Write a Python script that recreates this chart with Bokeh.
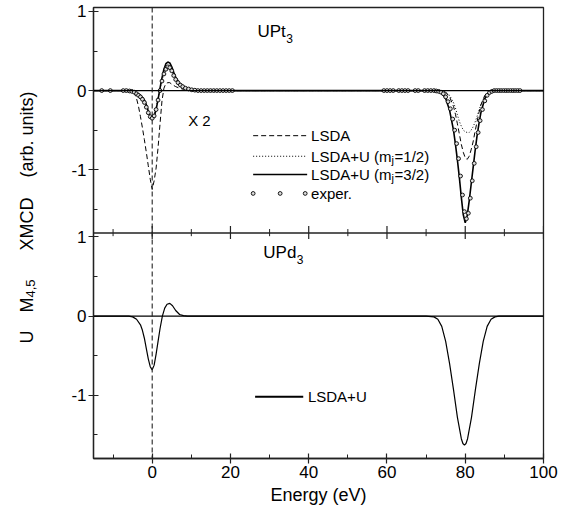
import numpy as np
from bokeh.plotting import figure
from bokeh.layouts import row
from bokeh.models import Range1d, Span, FixedTicker, Label
from bokeh.embed import file_html
from bokeh.resources import INLINE

FONT = "Liberation Sans"
INK = "#222222"
OFFSET = 2.85          # vertical shift of the upper (UPt3) panel in axis units
Y_LO, Y_HI = -1.8, 1.05

# ---------------- data: UPt3 (upper panel) ----------------
E_top = [-15, -6, -5, -4.5, -4, -3.5, -3, -2.5, -2, -1.5, -1, -0.5, 0, 0.5, 1, 1.5,
         2, 2.5, 3, 3.5, 4, 4.5, 5, 5.5, 6, 7, 8, 9, 10, 11, 12,
         70, 72, 73, 74, 75, 76, 77, 77.5, 78, 78.5, 79, 79.5, 80, 80.5, 81, 81.5,
         82, 82.5, 83, 83.5, 84, 85, 86, 87, 88, 100]
lsda_top = [0, 0, -0.01, -0.04, -0.10, -0.20, -0.33, -0.47, -0.62, -0.78, -0.95, -1.12, -1.25, -1.14, -0.98, -0.72,
            -0.42, -0.13, 0.03, 0.09, 0.10, 0.10, 0.08, 0.065, 0.05, 0.03, 0.015, 0.005, 0, 0, 0,
            0, 0, 0, 0, -0.02, -0.08, -0.20, -0.30, -0.42, -0.55, -0.68, -0.78, -0.85, -0.87, -0.83, -0.75,
            -0.65, -0.52, -0.40, -0.28, -0.18, -0.06, -0.01, 0, 0, 0]
mj12_top = [0, 0, -0.01, -0.015, -0.02, -0.035, -0.05, -0.075, -0.11, -0.17, -0.24, -0.30, -0.33, -0.30, -0.22, -0.10,
            0.02, 0.13, 0.21, 0.26, 0.28, 0.27, 0.24, 0.19, 0.14, 0.08, 0.04, 0.02, 0.01, 0, 0,
            0, 0, 0, 0, -0.02, -0.06, -0.15, -0.22, -0.31, -0.39, -0.45, -0.50, -0.52, -0.53, -0.53, -0.50,
            -0.46, -0.40, -0.33, -0.25, -0.18, -0.07, -0.02, 0, 0, 0]
mj32_top = [0, 0, -0.01, -0.02, -0.03, -0.045, -0.06, -0.09, -0.12, -0.18, -0.26, -0.33, -0.36, -0.33, -0.24, -0.11,
            0.03, 0.16, 0.27, 0.34, 0.36, 0.35, 0.30, 0.23, 0.17, 0.09, 0.05, 0.025, 0.01, 0, 0,
            0, 0, 0, -0.03, -0.10, -0.25, -0.50, -0.68, -0.88, -1.10, -1.35, -1.57, -1.67, -1.58, -1.40, -1.19,
            -0.98, -0.77, -0.58, -0.42, -0.28, -0.10, -0.03, 0, 0, 0]

exp_x = [-12.9, -10.7, -7.4, -6.6, -5.8, -5.2, -4.6, -4.0, -3.5, -3.0, -2.5, -2.0, -1.5, -1.0, -0.5, 0,
         0.5, 1.0, 1.5, 2.0, 2.5, 3.0, 3.5, 4.0, 4.5, 5.0, 5.5, 6.0, 6.6, 7.2, 7.8, 8.5, 9.3, 10.1,
         10.9, 11.7, 12.5, 13.3, 14.1, 14.9, 15.7, 16.5, 17.3, 18.1, 18.9, 19.7, 20.5,
         59.2, 60.0, 60.8, 61.6, 63.0, 63.8, 64.6, 65.4, 67.2, 68.0, 69.6, 70.4, 71.2,
         72.0, 72.6, 73.2, 73.8, 74.4, 75.0, 75.6, 76.2, 76.8, 77.3, 77.8, 78.3, 78.8, 79.3, 79.8,
         80.3, 80.8, 81.3, 81.8, 82.3, 82.8, 83.3, 83.8, 84.4, 85.0, 85.6, 86.2, 86.8, 87.4,
         88.0, 88.6, 89.2, 89.8, 90.4, 91.0, 91.6, 92.2, 92.8, 93.4, 94.0]
exp_y = [0, 0, 0, 0, -0.005, -0.01, -0.02, -0.04, -0.06, -0.08, -0.11, -0.15, -0.21, -0.28, -0.33, -0.35,
         -0.32, -0.24, -0.12, 0.0, 0.12, 0.21, 0.27, 0.30, 0.29, 0.25, 0.19, 0.14, 0.10, 0.07, 0.05, 0.03, 0.02, 0.01,
         0.005, 0, 0, 0, 0, 0, 0, 0, 0, 0, 0, 0, 0,
         0, 0, 0, 0, 0, 0, 0, 0, 0, 0, 0, 0, 0,
         0, -0.005, -0.01, -0.02, -0.04, -0.08, -0.14, -0.23, -0.36, -0.50, -0.67, -0.86, -1.08, -1.32, -1.53,
         -1.62, -1.55, -1.36, -1.14, -0.92, -0.71, -0.53, -0.38, -0.24, -0.13, -0.06, -0.025, -0.01, 0,
         0, 0, 0, 0, 0, 0, 0, 0, 0, 0, 0]

# ---------------- data: UPd3 (lower panel) ----------------
E_bot = [-15, -6, -5, -4, -3, -2.5, -2, -1.5, -1, -0.5, 0, 0.5, 1, 1.5, 2, 2.6, 3.2, 3.8, 4.5, 5.2,
         6, 7, 8, 9, 70, 72, 73, 74, 75, 76, 77, 78, 79, 79.4, 79.8, 80.2, 80.6, 81.6, 82.6, 83.6,
         84.6, 85.6, 86.6, 87.6, 88.6, 100]
lsdau_bot = [0, 0, -0.01, -0.04, -0.11, -0.18, -0.28, -0.41, -0.54, -0.64, -0.68, -0.62, -0.48, -0.32, -0.16, 0.0,
             0.10, 0.15, 0.16, 0.13, 0.07, 0.02, 0.005, 0, 0, -0.01, -0.04, -0.13, -0.32, -0.60, -0.93, -1.28,
             -1.55, -1.61, -1.63, -1.61, -1.55, -1.28, -0.93, -0.60, -0.32, -0.13, -0.04, -0.01, 0, 0]

# ---------------- ticks ----------------
x_major = [0, 20, 40, 60, 80, 100]
x_minor = [-10, 10, 30, 50, 70, 90]
y_major = [-1, 0, 1]
y_minor = [-1.5, -0.5, 0.5]
y_labels = ["-1", "0", "1"]

TOP_B = 7
FRAME_H = 451
LABEL_W = 40

p = figure(frame_width=450, frame_height=FRAME_H,
           x_range=Range1d(-15, 100), y_range=Range1d(Y_LO, Y_HI + OFFSET),
           output_backend="svg", toolbar_location=None,
           min_border_left=93 - LABEL_W, min_border_right=20, min_border_top=TOP_B, min_border_bottom=30)
p.extra_y_ranges = {"top": Range1d(Y_LO - OFFSET, Y_HI)}
p.xgrid.visible = False
p.ygrid.visible = False
p.outline_line_color = INK
p.outline_line_width = 1.3

# combined y ticks: lower panel plain, upper panel shifted
yt = y_major + [v + OFFSET for v in y_major]
ym = y_minor + [v + OFFSET for v in y_minor]
p.yaxis.ticker = FixedTicker(ticks=yt, minor_ticks=ym)
p.yaxis.major_label_overrides = {t: lab for t, lab in zip(yt, y_labels + y_labels)}
p.xaxis.ticker = FixedTicker(ticks=x_major, minor_ticks=x_minor)

for ax in (p.xaxis[0], p.yaxis[0]):
    ax.axis_line_color = INK
    ax.axis_line_width = 1.3
    ax.major_tick_line_color = INK
    ax.minor_tick_line_color = INK
    ax.major_tick_line_width = 1.2
    ax.minor_tick_line_width = 1.0
    ax.major_tick_in = 5
    ax.major_tick_out = 5
    ax.minor_tick_in = 4
    ax.minor_tick_out = 0
    ax.major_label_text_font = FONT
    ax.major_label_text_font_size = "17px"
    ax.major_label_text_color = "black"
p.yaxis.major_label_standoff = 2
p.xaxis.major_label_standoff = 2
p.xaxis.axis_label = "Energy (eV)"
p.xaxis.axis_label_text_font = FONT
p.xaxis.axis_label_text_font_size = "18px"
p.xaxis.axis_label_text_font_style = "normal"
p.xaxis.axis_label_text_color = "black"
p.xaxis.axis_label_standoff = 4

# divider between panels, with ticks crossing it
p.add_layout(Span(location=Y_HI, dimension="width", line_color=INK, line_width=1.3))
p.segment(x0=x_major, x1=x_major, y0=[Y_HI - 0.075] * len(x_major), y1=[Y_HI + 0.09] * len(x_major),
          line_color=INK, line_width=1.2)
p.segment(x0=x_minor, x1=x_minor, y0=[Y_HI - 0.04] * len(x_minor), y1=[Y_HI + 0.05] * len(x_minor),
          line_color=INK, line_width=1.0)

# zero lines and the dashed x=0 line
p.add_layout(Span(location=0, dimension="width", line_color="black", line_width=1.3))
p.add_layout(Span(location=0, dimension="width", y_range_name="top", line_color="black", line_width=1.3))
p.add_layout(Span(location=0, dimension="height", line_color=INK, line_width=1.1, line_dash="5 3"))

# upper panel curves
p.line(E_top, lsda_top, y_range_name="top", line_color="black", line_width=1.0, line_dash="5 3")
p.line(E_top, mj12_top, y_range_name="top", line_color="black", line_width=1.0, line_dash="1 2")
p.line(E_top, mj32_top, y_range_name="top", line_color="black", line_width=1.6)
p.scatter(exp_x, exp_y, y_range_name="top", marker="circle", size=3.8,
          fill_color="#dddddd", line_color="black", line_width=0.9)

# lower panel curve
p.line(E_bot, lsdau_bot, line_color="black", line_width=1.2)


def lab(fig, text, x, y, size="15px", rng="default", **kw):
    fig.add_layout(Label(x=x, y=y, text=text, y_range_name=rng, text_font=FONT,
                         text_font_size=size, text_color="black", **kw))


# upper panel legend
LEG_X0, LEG_X1, LEG_TX = 25.8, 39.6, 40.6
ROWS = [-0.57, -0.83, -1.06, -1.30]
p.line([LEG_X0, LEG_X1], [ROWS[0]] * 2, y_range_name="top", line_color="black", line_width=1.0, line_dash="5 3")
p.line([LEG_X0, LEG_X1], [ROWS[1]] * 2, y_range_name="top", line_color="black", line_width=1.0, line_dash="1 2")
p.line([LEG_X0, LEG_X1], [ROWS[2]] * 2, y_range_name="top", line_color="black", line_width=1.6)
p.scatter([25.8, 32.7, 39.1], [ROWS[3]] * 3, y_range_name="top", marker="circle", size=3.8,
          fill_color="#dddddd", line_color="black", line_width=0.9)
lab(p, "LSDA", LEG_TX, ROWS[0], rng="top", text_baseline="middle")
for r, frac in ((ROWS[1], "=1/2)"), (ROWS[2], "=3/2)")):
    lab(p, "LSDA+U (m", LEG_TX, r, rng="top", text_baseline="middle")
    lab(p, "j", LEG_TX, r, size="11px", rng="top", text_baseline="middle", x_offset=80.5, y_offset=-4)
    lab(p, frac, LEG_TX, r, rng="top", text_baseline="middle", x_offset=83.5)
lab(p, "exper.", LEG_TX, ROWS[3], rng="top", text_baseline="middle")

# panel titles and scale note
lab(p, "UPt", 26.9, 0.745, size="17px", rng="top", text_baseline="middle")
lab(p, "3", 26.9, 0.745, size="12px", rng="top", text_baseline="middle", x_offset=28.8, y_offset=-7)
lab(p, "X 2", 9.2, -0.373, size="15px", rng="top", text_baseline="middle")
lab(p, "UPd", 28.4, 0.80, size="17px", text_baseline="middle")
lab(p, "3", 28.4, 0.80, size="12px", text_baseline="middle", x_offset=33.3, y_offset=-7)

# lower panel legend
p.line([26.3, 38.6], [-1.02, -1.02], line_color="black", line_width=2.0)
lab(p, "LSDA+U", 39.8, -1.02, text_baseline="middle")

# narrow strip on the left holding the rotated y-axis title (shares the y mapping)
yl = figure(frame_width=LABEL_W, frame_height=FRAME_H, x_range=Range1d(0, LABEL_W), y_range=p.y_range,
            x_axis_type=None, y_axis_type=None, output_backend="svg", toolbar_location=None,
            min_border_left=0, min_border_right=0, min_border_top=TOP_B, min_border_bottom=0)
yl.grid.visible = False
yl.outline_line_color = None
YL_X = 26
ROT = np.pi / 2
lab(yl, "U", YL_X, -0.347, size="18px", angle=ROT, text_baseline="middle")
lab(yl, "M", YL_X, 0.045, size="18px", angle=ROT, text_baseline="middle")
lab(yl, "4,5", YL_X + 4, 0.235, size="13px", angle=ROT, text_baseline="middle")
lab(yl, "XMCD", YL_X, 0.829, size="18px", angle=ROT, text_baseline="middle")
lab(yl, "(arb. units)", YL_X, 1.751, size="18px", angle=ROT, text_baseline="middle")

layout = row(yl, p)
open("out.html", "w").write(file_html(layout, INLINE))
